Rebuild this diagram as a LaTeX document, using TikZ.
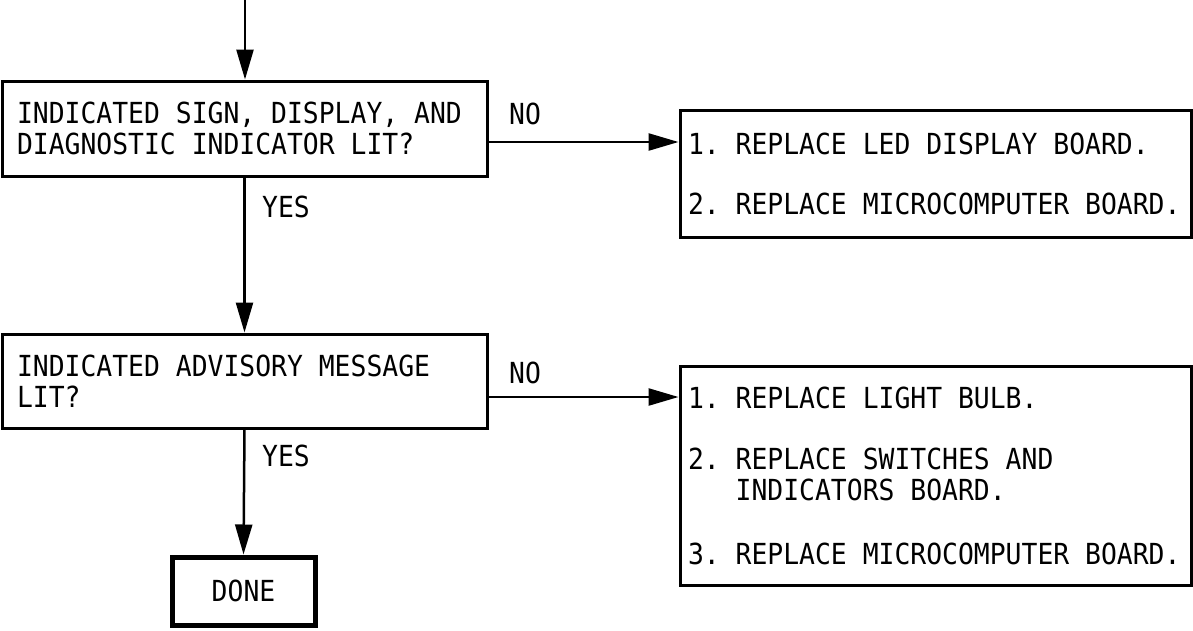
\documentclass[tikz,border=0pt]{standalone}
\usepackage{fontspec}
\newfontfamily\tw[FakeStretch=0.91]{DejaVu Sans Mono}
\newcommand\twfont{\tw\fontsize{29}{31}\selectfont\frenchspacing}
\newcommand\fixsp{\setbox0\hbox{M}\spaceskip=\wd0 plus 0pt minus 0pt\relax}
\usetikzlibrary{arrows.meta,positioning}
\tikzset{
  txt/.style={font=\twfont, execute at begin node=\fixsp},
  box/.style={txt, draw, line width=3pt, rectangle, inner ysep=0pt, align=left},
  donebox/.style={txt, draw, line width=5pt, rectangle, inner sep=0pt, align=center,
    minimum width=143pt, minimum height=68pt},
  lbl/.style={txt, inner sep=0pt},
  arr/.style={line width=2.5pt, -{Triangle[length=30pt,width=17pt]}},
}
\begin{document}
\begin{tikzpicture}[x=1pt,y=-1pt]
\useasboundingbox (0,0) rectangle (1193,630);
% decision boxes
\node[box, text width=455pt, inner xsep=15pt, minimum height=95pt] (b1) at (244.5,128.5)
  {INDICATED SIGN, DISPLAY, AND\\DIAGNOSTIC INDICATOR LIT?};
\node[box, text width=455pt, inner xsep=15pt, minimum height=94pt] (b2) at (244.5,381)
  {INDICATED ADVISORY MESSAGE\\LIT?};
% action boxes
\node[box, text width=495pt, inner xsep=8pt, minimum height=127pt] (r1) at (935.5,173.5)
  {1. REPLACE LED DISPLAY BOARD.\\[29pt]2. REPLACE MICROCOMPUTER BOARD.};
\node[box, text width=495pt, inner xsep=8pt, minimum height=219pt] (r2) at (935.5,475.5)
  {1. REPLACE LIGHT BULB.\\[30pt]2. REPLACE SWITCHES AND\\\hphantom{2. }INDICATORS BOARD.\\[33pt]3. REPLACE MICROCOMPUTER BOARD.};
\node[donebox] (done) at (243.5,591) {DONE};
% labels
\node[lbl, anchor=west] (no1) at (509,114) {NO};
\node[lbl, anchor=west] (yes1) at (262,207) {YES};
\node[lbl, anchor=west] (no2) at (509,373) {NO};
\node[lbl, anchor=west] (yes2) at (262,456) {YES};
% connectors
\coordinate (start) at (245,0);
\draw[arr] (start) -- (start |- b1.north);
\draw[arr] (b1.south) -- (b2.north);
\draw[arr] (b2.south) -- (done.north);
\path ([yshift=-13.5pt]b1.east) coordinate (n1s);
\draw[arr] (n1s) -- (n1s -| r1.west);
\path ([yshift=-16pt]b2.east) coordinate (n2s);
\draw[arr] (n2s) -- (n2s -| r2.west);
\end{tikzpicture}
\end{document}
